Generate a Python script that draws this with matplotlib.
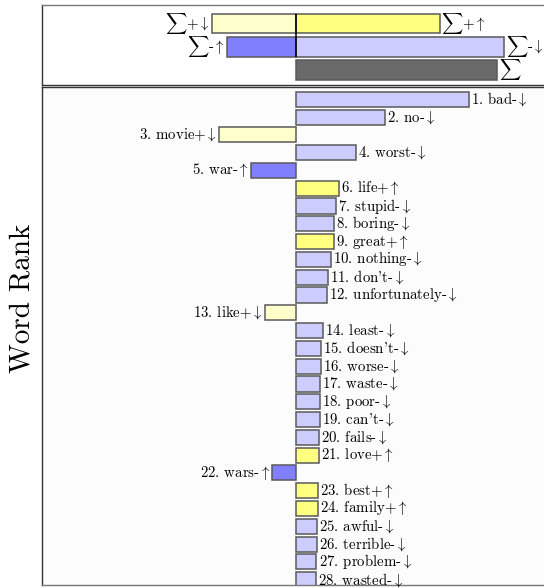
import matplotlib
matplotlib.use("Agg")
import matplotlib.pyplot as plt

plt.rcParams['mathtext.fontset'] = 'cm'
plt.rcParams['font.family'] = ['cmr10', 'DejaVu Serif']
plt.rcParams['axes.unicode_minus'] = False

# ---- data ----
words = ['bad', 'no', 'movie', 'worst', 'war', 'life', 'stupid', 'boring', 'great',
         'nothing', "don't", 'unfortunately', 'like', 'least', "doesn't", 'worse',
         'waste', 'poor', "can't", 'fails', 'love', 'wars', 'best', 'family',
         'awful', 'terrible', 'problem', 'wasted']
contrib = [173.3, 89.3, -76.7, 60.3, -44.7, 43.6, 40.3, 38.6, 38.6,
           35.3, 32.3, 31.0, -30.7, 27.3, 25.6, 25.0,
           24.3, 24.3, 24.1, 23.6, 23.3, -23.4, 22.6, 22.0,
           21.0, 21.0, 20.8, 20.0]
sentiment = ['-', '-', '+', '-', '-', '+', '-', '-', '+',
             '-', '-', '-', '+', '-', '-', '-',
             '-', '-', '-', '-', '+', '-', '+', '+',
             '-', '-', '-', '-']
direction = ['down', 'down', 'down', 'down', 'up', 'up', 'down', 'down', 'up',
             'down', 'down', 'down', 'down', 'down', 'down', 'down',
             'down', 'down', 'down', 'down', 'up', 'up', 'up', 'up',
             'down', 'down', 'down', 'down']

sum_pos_down = -83.4
sum_pos_up = 144.0
sum_neg_up = -68.7
sum_neg_down = 208.6
sum_total = 201.3

colors = {('+', 'up'): '#ffff80', ('+', 'down'): '#ffffcc',
          ('-', 'up'): '#8080ff', ('-', 'down'): '#ccccff'}
arrows = {'up': r'$\uparrow$', 'down': r'$\downarrow$'}
edge = '#5a5a5a'
fs = 10.7

W, H = 544, 588
fig = plt.figure(figsize=(W / 100, H / 100), dpi=100)

xl = 253.7
axL = 42 / W
axW = 2 * xl / W

# ---- top summary panel ----
ax1 = fig.add_axes([axL, 1 - 85 / H, axW, 80 / H])
bh_top = 0.84
rows = [1, 1, 2, 2, 3]
vals = [sum_pos_down, sum_pos_up, sum_neg_up, sum_neg_down, sum_total]
cols = [colors[('+', 'down')], colors[('+', 'up')], colors[('-', 'up')],
        colors[('-', 'down')], '#696969']
labs = [r'$\sum$+$\downarrow$', r'$\sum$+$\uparrow$', r'$\sum$-$\uparrow$',
        r'$\sum$-$\downarrow$', r'$\sum$']
ax1.barh(rows, vals, height=bh_top, color=cols, edgecolor=edge, linewidth=1.1)
ax1.vlines(0, 1 - bh_top / 2, 2 + bh_top / 2, color='black', linewidth=1.1)
for r, v, l in zip(rows, vals, labs):
    ax1.annotate(l, (v, r), xytext=(1.2 if v > 0 else -1.5, 0), textcoords='offset points',
                 ha='left' if v > 0 else 'right', va='center', fontsize=fs)
ax1.set_xlim(-xl, xl)
ax1.set_ylim(3.65, 0.19)
ax1.set_xticks([])
ax1.set_yticks([])
for s in ax1.spines.values():
    s.set_color('#333333')
    s.set_linewidth(1.0)
ax1.spines['top'].set_color('#777777')

# ---- word panel ----
ax2 = fig.add_axes([axL, 1 - 585 / H, axW, 498 / H])
ax2.set_facecolor('#fcfcfc')
ranks = list(range(1, len(words) + 1))
bcols = [colors[(s, d)] for s, d in zip(sentiment, direction)]
ax2.barh(ranks, contrib, height=0.85, color=bcols, edgecolor=edge, linewidth=1.1)
for r, w, v, s, d in zip(ranks, words, contrib, sentiment, direction):
    lab = f'{r}. {w}{s}' + arrows[d]
    ax2.annotate(lab, (v, r), xytext=(1.5 if v > 0 else -1.5, 0), textcoords='offset points',
                 ha='left' if v > 0 else 'right', va='center', fontsize=fs)
ax2.set_xlim(-xl, xl)
ax2.set_ylim(28.3, 0.31)
ax2.set_xticks([])
ax2.set_yticks([])
for s in ax2.spines.values():
    s.set_color('#333333')
    s.set_linewidth(1.0)
ax2.spines['bottom'].set_color('#777777')

fig.text(22 / W, 1 - 298 / H, 'Word Rank', rotation=90, ha='center', va='center',
         fontsize=21)

fig.savefig('out.png', dpi=100)
